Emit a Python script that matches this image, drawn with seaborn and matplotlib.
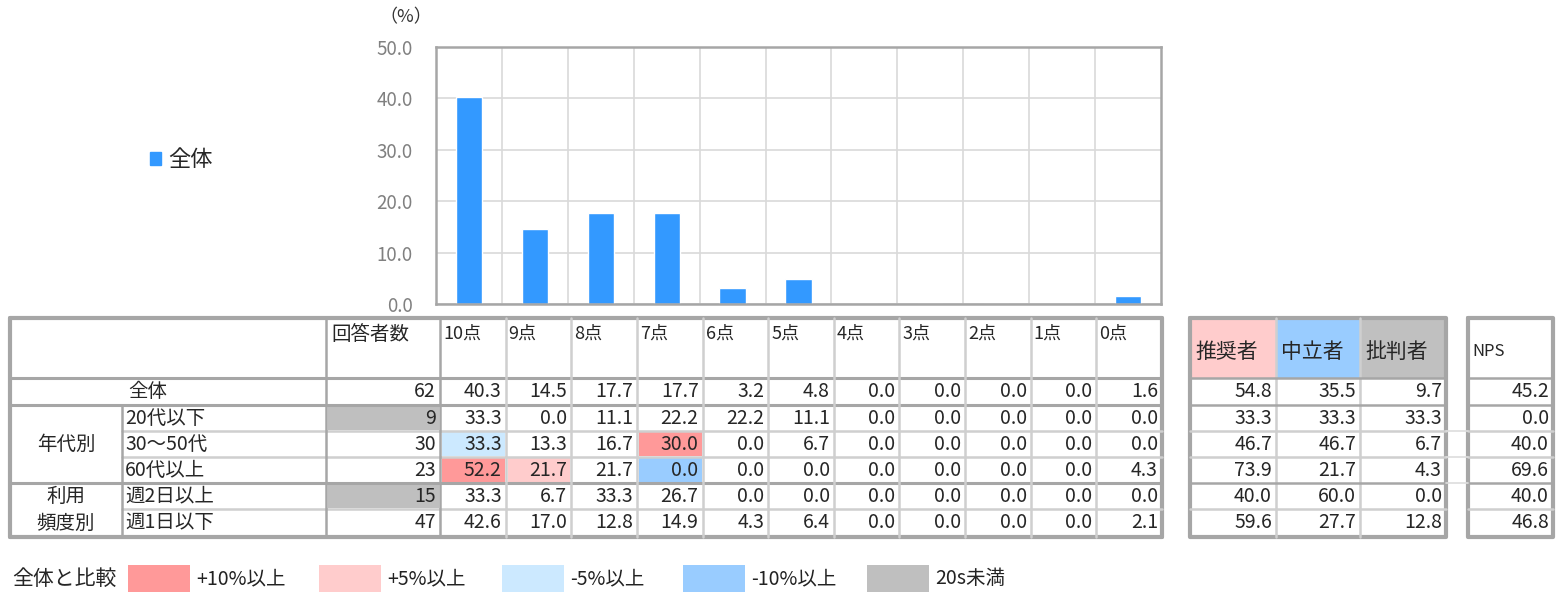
import seaborn as sns
import matplotlib.pyplot as plt
import numpy as np
import pandas as pd
from matplotlib.patches import Rectangle, Patch

# Data
points = ['10点', '9点', '8点', '7点', '6点', '5点', '4点', '3点', '2点', '1点', '0点']
overall = [40.3, 14.5, 17.7, 17.7, 3.2, 4.8, 0.0, 0.0, 0.0, 0.0, 1.6]

row_labels = ['全体', '20代以下', '30～50代', '60代以上', '週2日以上', '週1日以下']
respondents = [62, 9, 30, 23, 15, 47]
row_values = [
    [40.3, 14.5, 17.7, 17.7, 3.2, 4.8, 0.0, 0.0, 0.0, 0.0, 1.6],
    [33.3, 0.0, 11.1, 22.2, 22.2, 11.1, 0.0, 0.0, 0.0, 0.0, 0.0],
    [33.3, 13.3, 16.7, 30.0, 0.0, 6.7, 0.0, 0.0, 0.0, 0.0, 0.0],
    [52.2, 21.7, 21.7, 0.0, 0.0, 0.0, 0.0, 0.0, 0.0, 0.0, 4.3],
    [33.3, 6.7, 33.3, 26.7, 0.0, 0.0, 0.0, 0.0, 0.0, 0.0, 0.0],
    [42.6, 17.0, 12.8, 14.9, 4.3, 6.4, 0.0, 0.0, 0.0, 0.0, 2.1],
]
promoters = [54.8, 33.3, 46.7, 73.9, 40.0, 59.6]
passives = [35.5, 33.3, 46.7, 21.7, 60.0, 27.7]
detractors = [9.7, 33.3, 6.7, 4.3, 0.0, 12.8]
nps = [45.2, 0.0, 40.0, 69.6, 40.0, 46.8]

legend_labels = ['+10%以上', '+5%以上', '-5%以上', '-10%以上', '20s未満']
legend_colors = ['#ff9999', '#ffcccc', '#cce9ff', '#99ccff', '#bfbfbf']

sns.set_style('white')
plt.rcParams['font.family'] = ['Noto Sans CJK JP', 'DejaVu Sans']

W, H = 1556, 593
fig = plt.figure(figsize=(W / 100, H / 100), dpi=100)

# ---- table layer (pixel coords) ----
tb = fig.add_axes([0, 0, 1, 1], zorder=0)
tb.set_xlim(0, W)
tb.set_ylim(H, 0)
tb.axis('off')

col_w = (1162 - 440) / 11
xe = [10, 122, 326, 440] + [440 + col_w * (k + 1) for k in range(11)]
ye = [318, 378, 405, 431, 457, 483, 509, 537]
rx = [1190, 1276, 1360, 1446]
nx = [1468, 1553]
dark, light = '#a6a6a6', '#cfcfcf'
fs = 14

# cell fills
for i, n in enumerate(respondents):
    y0, y1 = ye[i + 1], ye[i + 2]
    if n < 20:
        tb.add_patch(Rectangle((xe[2] + 2, y0 + 1), xe[3] - xe[2] - 3, y1 - y0 - 2, color=legend_colors[4], lw=0))
        continue
    if i == 0:
        continue
    for j, v in enumerate(row_values[i]):
        d = v - overall[j]
        c = None
        if d >= 10:
            c = legend_colors[0]
        elif d >= 5:
            c = legend_colors[1]
        elif d <= -10:
            c = legend_colors[3]
        elif d <= -5:
            c = legend_colors[2]
        if c:
            tb.add_patch(Rectangle((xe[3 + j] + 2, y0 + 1), col_w - 3, y1 - y0 - 2, color=c, lw=0))

for k, c in enumerate(['#ffcccc', '#99ccff', '#c0c0c0']):
    tb.add_patch(Rectangle((rx[k], ye[0]), rx[k + 1] - rx[k], ye[1] - ye[0], color=c, lw=0))

# lines of main table
tb.plot([xe[0], xe[-1]], [ye[0], ye[0]], color=dark, lw=3)
tb.plot([xe[0], xe[-1]], [ye[-1], ye[-1]], color=dark, lw=3)
tb.plot([xe[0], xe[0]], [ye[0], ye[-1]], color=dark, lw=3)
tb.plot([xe[-1], xe[-1]], [ye[0], ye[-1]], color=dark, lw=3)
for y in [ye[1], ye[2], ye[5]]:
    tb.plot([xe[0], xe[-1]], [y, y], color=dark, lw=2.2)
for y in [ye[3], ye[4], ye[6]]:
    tb.plot([xe[1], xe[-1]], [y, y], color=light, lw=1.8)
tb.plot([xe[1], xe[1]], [ye[2], ye[-1]], color=dark, lw=1.8)
for x in xe[2:-1]:
    tb.plot([x, x], [ye[0], ye[-1]], color=light if x > xe[3] else dark, lw=1.8)

# right tables
for xs in [rx, nx]:
    tb.plot([xs[0], xs[-1], xs[-1], xs[0], xs[0]], [ye[0], ye[0], ye[-1], ye[-1], ye[0]], color=dark, lw=3)
    for x in xs[1:-1]:
        tb.plot([x, x], [ye[0], ye[-1]], color=light, lw=1.8)
    for y in ye[1:-1]:
        tb.plot([xs[0], xs[-1]], [y, y], color=dark if y in (ye[1], ye[2], ye[5]) else light, lw=1.8)
for y in ye[3:6]:
    tb.plot([rx[-1], nx[0]], [y, y], color='#dddddd', lw=1.2)

# header texts
hy = 334
tb.text(xe[2] + 5, hy, '回答者数', fontsize=fs, va='center', ha='left')
for j, p in enumerate(points):
    tb.text(xe[3 + j] + 3, hy, p, fontsize=fs - 1, va='center', ha='left')
for k, t in enumerate(['推奨者', '中立者', '批判者']):
    tb.text(rx[k] + 5, 352, t, fontsize=fs + 1, va='center', ha='left')
tb.text(nx[0] + 4, 352, 'NPS', fontsize=fs - 2, va='center', ha='left')

# body texts
for i, lab in enumerate(row_labels):
    yc = (ye[i + 1] + ye[i + 2]) / 2
    tb.text(128 if i == 0 else xe[1] + 3, yc, lab, fontsize=fs, va='center', ha='left')
    tb.text(xe[3] - 4, yc, str(respondents[i]), fontsize=fs, va='center', ha='right')
    for j, v in enumerate(row_values[i]):
        tb.text(xe[4 + j] - 4, yc, f'{v:.1f}', fontsize=fs, va='center', ha='right')
    for k, vals in enumerate([promoters, passives, detractors]):
        tb.text(rx[k + 1] - 4, yc, f'{vals[i]:.1f}', fontsize=fs, va='center', ha='right')
    tb.text(nx[1] - 4, yc, f'{nps[i]:.1f}', fontsize=fs, va='center', ha='right')

tb.text(66, (ye[2] + ye[5]) / 2, '年代別', fontsize=fs, va='center', ha='center')
tb.text(66, (ye[5] + ye[6]) / 2, '利用', fontsize=fs, va='center', ha='center')
tb.text(66, (ye[6] + ye[7]) / 2, '頻度別', fontsize=fs, va='center', ha='center')

# bottom legend
tb.text(12, 579, '全体と比較', fontsize=15, va='center', ha='left')
sw_x = [128, 319, 502, 683, 867]
for x, c, lab in zip(sw_x, legend_colors, legend_labels):
    tb.add_patch(Rectangle((x, 565), 62, 27, color=c, lw=0))
    tb.text(x + 68, 579, lab, fontsize=14, va='center', ha='left', color='#222222')

# ---- bar chart ----
l, r, t, b = 436, 1161, 47, 304
ax = fig.add_axes([l / W, 1 - b / H, (r - l) / W, (b - t) / H], zorder=2)
df = pd.DataFrame({'点': points, '全体': overall})
sns.barplot(data=df, x='点', y='全体', ax=ax, color='#3399ff', width=0.4, saturation=1)
ax.set_ylim(0, 50)
ax.set_xlim(-0.5, len(points) - 0.5)
ax.set_yticks(np.arange(0, 51, 10))
ax.set_yticklabels([f'{v:.1f}' for v in np.arange(0, 51, 10)], color='#808080', fontsize=13.5)
ax.set_xticks(np.arange(len(points) - 1) + 0.5, minor=True)
ax.set_xticklabels([])
ax.set_xlabel('')
ax.set_ylabel('')
ax.tick_params(axis='both', which='both', length=0, pad=17)
ax.grid(axis='y', color='#d9d9d9', lw=1.2)
ax.grid(axis='x', which='minor', color='#d9d9d9', lw=1.2)
ax.set_axisbelow(True)
for s in ax.spines.values():
    s.set_color('#a6a6a6')
    s.set_linewidth(1.8)
fig.text(406 / W, 1 - 17 / H, '（%）', fontsize=13, ha='center', va='center', color='#333333')
fig.legend(handles=[Patch(color='#3399ff', label='全体')], loc='center left',
           bbox_to_anchor=(130 / W, 1 - 160 / H), frameon=False, fontsize=16,
           handlelength=0.5, handleheight=0.5, handletextpad=0.3)

fig.savefig('out.png', dpi=100)
